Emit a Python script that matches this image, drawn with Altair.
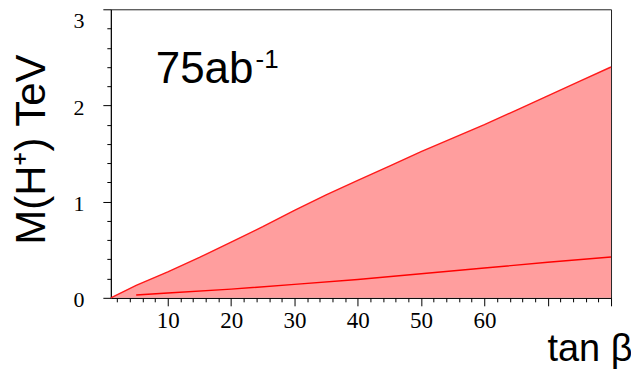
import altair as alt
import pandas as pd

# upper edge of the allowed band (M(H+) in TeV vs tan beta)
upper_tanb = [1, 5, 10, 15, 20, 25, 30, 35, 40, 45, 50, 55, 60, 65, 70, 75, 80]
upper_m = [0.0, 0.13, 0.27, 0.42, 0.58, 0.74, 0.91, 1.07, 1.22, 1.37, 1.52, 1.66, 1.80, 1.95, 2.10, 2.25, 2.40]

# lower curve drawn inside the band
lower_tanb = [5, 10, 20, 30, 40, 50, 60, 70, 80]
lower_m = [0.03, 0.05, 0.09, 0.14, 0.19, 0.25, 0.31, 0.37, 0.425]

x_ticks = list(range(2, 81, 2))
y_ticks = [0.0, 0.2, 0.4, 0.6, 0.8, 1.0, 1.2, 1.4, 1.6, 1.8, 2.0,
           2.2, 2.4, 2.6, 2.8, 3.0]

lumi_text = ["75ab"]
lumi_sup = ["-1"]

df_up = pd.DataFrame({"tanb": upper_tanb, "m": upper_m})
df_low = pd.DataFrame({"tanb": lower_tanb, "m": lower_m})

xs = alt.Scale(domain=[1, 80], nice=False, zero=False)
ys = alt.Scale(domain=[0, 3], nice=False, zero=False)

x_axis = alt.Axis(
    values=x_ticks,
    labelExpr="(datum.value % 10 == 0 && datum.value <= 60) ? '' + datum.value : ''",
    tickSize={"condition": {"test": "datum.value % 10 == 0", "value": 8}, "value": 4},
    tickColor="black", tickWidth=1,
    domainColor="black", domainWidth=1,
    grid=False,
    labelFont="Liberation Serif", labelFontSize=23, labelColor="black",
    labelPadding=4, labelBaseline="top", labelFlush=False, labelOverlap=False,
    title="tan β", titleFont="Liberation Sans", titleFontSize=38,
    titleFontWeight="normal", titleColor="black",
    titleX=522, titleY=63, titleAlign="right", titleBaseline="alphabetic", titleAngle=0,
)

y_axis = alt.Axis(
    values=y_ticks,
    labelExpr="abs(datum.value - round(datum.value)) < 0.001 ? '' + round(datum.value) : ''",
    tickSize={"condition": {"test": "abs(datum.value - round(datum.value)) < 0.001", "value": 8}, "value": 4},
    tickColor="black", tickWidth=1,
    domainColor="black", domainWidth=1,
    grid=False,
    labelFont="Liberation Serif", labelFontSize=22, labelColor="black",
    labelPadding=19,
    labelOffset={"condition": {"test": "datum.value > 2.9", "value": 11}, "value": 2},
    labelFlush=False, labelOverlap=False,
    title="M(H⁺) TeV", titleFont="Liberation Sans", titleFontSize=42,
    titleFontWeight="normal", titleColor="black",
    titleX=-66, titleY=140, titleAlign="center", titleBaseline="alphabetic", titleAngle=270,
)


def xe():
    return alt.X("tanb:Q", scale=xs, axis=x_axis)


def ye():
    return alt.Y("m:Q", scale=ys, axis=y_axis)


area = alt.Chart(df_up).mark_area(color="#FF9E9E", opacity=1).encode(x=xe(), y=ye())
up_line = alt.Chart(df_up).mark_line(color="#FF1A1A", strokeWidth=1.4).encode(x=xe(), y=ye())
low_line = alt.Chart(df_low).mark_line(color="#FF0000", strokeWidth=1.4).encode(x=xe(), y=ye())

lumi = alt.Chart(pd.DataFrame({"t": lumi_text})).mark_text(
    font="Liberation Sans", fontSize=44, align="left", baseline="alphabetic", color="black"
).encode(x=alt.value(45), y=alt.value(74), text="t:N")

lumi2 = alt.Chart(pd.DataFrame({"t": lumi_sup})).mark_text(
    font="Liberation Sans", fontSize=26, align="left", baseline="alphabetic", color="black"
).encode(x=alt.value(145), y=alt.value(59), text="t:N")

chart = alt.layer(area, up_line, low_line, lumi, lumi2).properties(
    width=501,
    height=289,
    autosize=alt.AutoSizeParams(type="none"),
    padding={"left": 103, "top": 1, "right": 20, "bottom": 71},
    background="white",
).configure_view(stroke="#222222", strokeWidth=1)

chart.save("out.html", embed_options={"renderer": "svg", "actions": False})
